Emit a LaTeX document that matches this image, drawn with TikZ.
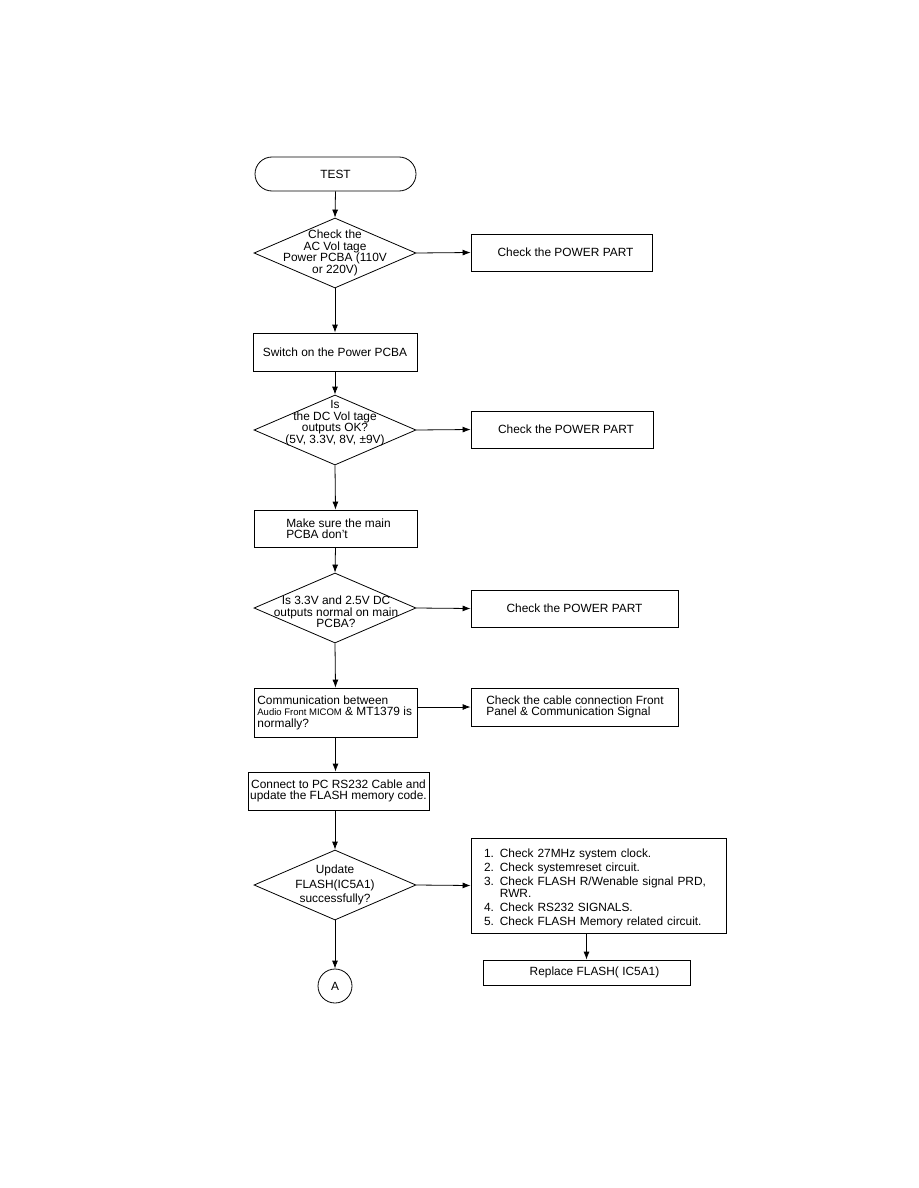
\documentclass[tikz,border=0pt]{standalone}
\usepackage{fontspec}
\setmainfont{Liberation Sans}
\usetikzlibrary{shapes.geometric,arrows.meta}
\begin{document}
\begin{tikzpicture}[x=1pt,y=-1pt, line width=0.8pt,
  every node/.style={font=\fontsize{11.9}{11.5}\selectfont, inner sep=0pt},
  box/.style={draw, rectangle, align=center},
  dia/.style={draw, diamond, minimum width=162pt, minimum height=70pt},
  term/.style={draw, rectangle, rounded corners=17pt, minimum width=161pt, minimum height=34pt},
  arr/.style={-{Latex[length=8pt,width=6pt]}}]
\useasboundingbox (0,0) rectangle (918,1188);

\node[term] (test) at (335.5,174) {TEST};

\node[dia] (d1) at (335,253) {};
\node[align=center] (d1t) at (335,253) {Check the\\AC Vol tage\\Power PCBA (110V\\or 220V)};
\node[box, minimum width=181pt, minimum height=37pt] (p1) at (561.5,252.5) {\hspace*{8pt}Check the POWER PART};

\node[box, minimum width=164pt, minimum height=38pt] (sw) at (335,352) {Switch on the Power PCBA};

\node[dia] (d2) at (335,430) {};
\node[align=center] (d2t) at (335,423) {Is\\the DC Vol tage\\outputs OK?\\(5V, 3.3V, 8V, ±9V)};
\node[box, minimum width=182pt, minimum height=37pt] (p2) at (562,429.5) {\hspace*{8pt}Check the POWER PART};

\node[box, minimum width=163pt, minimum height=37pt, align=left] (ms) at (335.5,528.5) {\hspace*{6pt}Make sure the main\\\hspace*{6pt}PCBA don't};

\node[dia] (d3) at (335,608) {};
\node[align=center] (d3t) at (336,612) {Is 3.3V and 2.5V DC\\outputs normal on main\\PCBA?};
\node[box, minimum width=207pt, minimum height=37pt] (p3) at (574.5,608.5) {Check the POWER PART};

\node[draw, rectangle, minimum width=163pt, minimum height=49pt] (cm) at (335.5,712.5) {};
\node[anchor=west, align=left] (cmt) at (257,712.5)
  {Communication between\\{\fontsize{9.5}{11.5}\selectfont Audio Front MICOM}\ \& MT1379 is\\normally?};
\node[draw, rectangle, minimum width=207pt, minimum height=38pt] (cc) at (574.5,707) {};
\node[anchor=west, align=left] (cct) at (486,707)
  {Check the cable connection Front\\Panel \& Communication Signal};

\node[box, minimum width=181pt, minimum height=38pt] (cp) at (338.5,791) {Connect to PC RS232 Cable and\\update the FLASH memory code.};

\node[dia] (d4) at (335,885) {};
\node[align=center, font=\fontsize{11.9}{14.5}\selectfont] (d4t) at (335,885) {Update\\FLASH(IC5A1)\\successfully?};

\node[draw, rectangle, minimum width=255pt, minimum height=95pt] (bb) at (598.5,885.5) {};
\node[text width=229pt, align=left] (bbt) at (598.5,888.5)
  {1. Check 27MHz system clock.\\[2.5pt]
   2. Check systemreset circuit.\\[2.5pt]
   3. Check FLASH R/Wenable signal PRD,\\
   \phantom{3. }RWR.\\[2.5pt]
   4. Check RS232 SIGNALS.\\[2.5pt]
   5. Check FLASH Memory related circuit.};

\node[box, minimum width=207pt, minimum height=25pt] (rp) at (586.5,972.5) {\hspace*{16pt}Replace FLASH( IC5A1)};

\node[draw, circle, minimum size=34pt] (A) at (335,986) {A};

\draw[arr] (test.south) -- (d1.north);
\draw[arr] (d1.east) -- (p1.west);
\draw[arr] (d1.south) -- (sw.north);
\draw[arr] (sw.south) -- (d2.north);
\draw[arr] (d2.east) -- (p2.west);
\draw[arr] (d2.south) -- (ms.north);
\draw[arr] (ms.south) -- (d3.north);
\draw[arr] (d3.east) -- (p3.west);
\draw[arr] (d3.south) -- (cm.north);
\draw[arr] (cm.east |- cc.west) -- (cc.west);
\draw[arr] (cm.south) -- (cm.south |- cp.north);
\draw[arr] (d4.north |- cp.south) -- (d4.north);
\draw[arr] (d4.east) -- (bb.west);
\draw[arr] (d4.south) -- (A.north);
\draw[arr] (rp.north |- bb.south) -- (rp.north);
\end{tikzpicture}
\end{document}
